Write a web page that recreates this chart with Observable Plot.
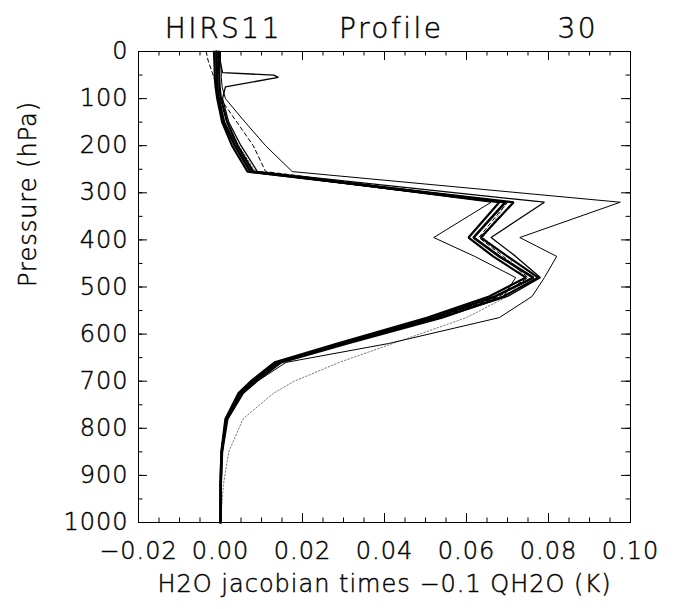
<!DOCTYPE html>
<html>
<head>
<meta charset="utf-8">
<script src="https://cdn.jsdelivr.net/npm/d3@7"></script>
<script src="https://cdn.jsdelivr.net/npm/@observablehq/plot@0.6"></script>
<style>
  body { margin: 0; background: #fff; }
  #chart svg { display: block; letter-spacing: 1px; font-weight: 200; }
  #chart svg text { stroke: #000; stroke-width: 0.45px; }
</style>
</head>
<body>
<div id="chart"></div>
<script>
// Pressure levels (hPa) shared by every profile
const pressure = [0, 20, 45, 50, 55, 75, 100, 150, 200, 255, 320, 395, 435, 480, 520, 565, 620, 660, 700, 725, 780, 850, 920, 1000];

// H2O jacobians (K) for the individual profiles, one value per level
const profA = [-0.0010, -0.0010, -0.0009, -0.0009, -0.0009, -0.0008, -0.0005, 0.0008, 0.0035, 0.0073, 0.0695, 0.0617, 0.0680, 0.0763, 0.0670, 0.0520, 0.0295, 0.0139, 0.0080, 0.0049, 0.0014, 0.0003, 0.0000, 0.0000];
const profB = [-0.0004, -0.0004, -0.0003, -0.0003, -0.0003, -0.0002, 0.0001, 0.0016, 0.0042, 0.0080, 0.0680, 0.0605, 0.0665, 0.0745, 0.0655, 0.0505, 0.0285, 0.0132, 0.0074, 0.0044, 0.0012, 0.0002, 0.0000, 0.0000];
const profC = [-0.0016, -0.0015, -0.0014, -0.0014, -0.0014, -0.0012, -0.0008, 0.0004, 0.0028, 0.0066, 0.0715, 0.0635, 0.0700, 0.0775, 0.0690, 0.0540, 0.0310, 0.0148, 0.0088, 0.0055, 0.0017, 0.0004, 0.0001, 0.0000];
const profD = [0.0000, 0.0000, 0.0002, 0.0002, 0.0002, 0.0004, 0.0012, 0.0060, 0.0110, 0.0175, 0.0975, 0.0730, 0.0820, 0.0790, 0.0760, 0.0680, 0.0410, 0.0160, 0.0090, 0.0055, 0.0016, 0.0004, 0.0001, 0.0000];
const profE = [-0.0008, -0.0008, -0.0007, -0.0007, -0.0007, -0.0006, -0.0003, 0.0010, 0.0040, 0.0078, 0.0660, 0.0520, 0.0620, 0.0720, 0.0690, 0.0530, 0.0300, 0.0140, 0.0078, 0.0047, 0.0013, 0.0003, 0.0000, 0.0000];
const profF = [-0.0002, -0.0001, 0.0005, 0.0130, 0.0141, 0.0012, 0.0005, 0.0020, 0.0050, 0.0090, 0.0790, 0.0660, 0.0720, 0.0780, 0.0700, 0.0540, 0.0300, 0.0140, 0.0080, 0.0050, 0.0014, 0.0003, 0.0000, 0.0000];
const profG = [-0.0006, -0.0006, -0.0005, -0.0005, -0.0005, -0.0004, 0.0000, 0.0015, 0.0045, 0.0085, 0.0700, 0.0640, 0.0700, 0.0740, 0.0700, 0.0600, 0.0420, 0.0290, 0.0180, 0.0130, 0.0055, 0.0020, 0.0007, 0.0000];
const profH = [-0.0035, -0.0030, -0.0020, -0.0018, -0.0016, -0.0010, 0.0000, 0.0040, 0.0080, 0.0110, 0.0700, 0.0630, 0.0690, 0.0750, 0.0680, 0.0530, 0.0300, 0.0140, 0.0080, 0.0050, 0.0014, 0.0003, 0.0000, 0.0000];

// Axis ticks and labels
const xMajor = [-0.02, 0.00, 0.02, 0.04, 0.06, 0.08, 0.10];
const yMajor = [0, 100, 200, 300, 400, 500, 600, 700, 800, 900, 1000];
const xMinor = d3.range(-0.02, 0.1001, 0.005);
const yMinor = d3.range(0, 1001, 50);

const titleText = "HIRS11\u00a0\u00a0\u00a0\u00a0\u00a0Profile\u00a0\u00a0\u00a0\u00a0\u00a0\u00a0\u00a0\u00a0\u00a0\u00a030";
const xLabel = "H2O jacobian times \u22120.1 QH2O (K)";
const yLabel = "Pressure (hPa)";

const rows = (vals) => pressure.map((p, i) => ({p, x: vals[i]}));

const W = 684, H = 609;
const mL = 138, mR = 54, mT = 51, mB = 87;
const innerW = W - mL - mR, innerH = H - mT - mB;

const profileLine = (vals, opts) => Plot.line(rows(vals), {x: "x", y: "p", stroke: "#000", strokeLinejoin: "miter", ...opts});

const chart = Plot.plot({
  width: W,
  height: H,
  marginLeft: mL,
  marginRight: mR,
  marginTop: mT,
  marginBottom: mB,
  style: {fontFamily: "DejaVu Sans", fontSize: "24px", color: "#000", background: "#fff"},
  x: {domain: [-0.02, 0.10], label: null},
  y: {domain: [0, 1000], reverse: true, label: null},
  marks: [
    // profiles
    profileLine(profG, {stroke: "#777", strokeWidth: 1, strokeDasharray: "1.5,2"}),
    profileLine(profD, {strokeWidth: 1}),
    profileLine(profE, {strokeWidth: 1}),
    profileLine(profF, {strokeWidth: 1.3}),
    profileLine(profH, {strokeWidth: 1, strokeDasharray: "4,3"}),
    profileLine(profC, {strokeWidth: 2.2}),
    profileLine(profB, {strokeWidth: 2.2}),
    profileLine(profA, {strokeWidth: 2.6}),
    // frame and inward ticks on all four sides
    Plot.frame({stroke: "#000", strokeWidth: 1}),
    Plot.tickX(xMinor, {x: d => d, insetTop: innerH - 4.5, strokeWidth: 1}),
    Plot.tickX(xMinor, {x: d => d, insetBottom: innerH - 4.5, strokeWidth: 1}),
    Plot.tickX(xMajor, {x: d => d, insetTop: innerH - 9, strokeWidth: 1}),
    Plot.tickX(xMajor, {x: d => d, insetBottom: innerH - 9, strokeWidth: 1}),
    Plot.tickY(yMinor, {y: d => d, insetRight: innerW - 4.5, strokeWidth: 1}),
    Plot.tickY(yMinor, {y: d => d, insetLeft: innerW - 4.5, strokeWidth: 1}),
    Plot.tickY(yMajor, {y: d => d, insetRight: innerW - 9, strokeWidth: 1}),
    Plot.tickY(yMajor, {y: d => d, insetLeft: innerW - 9, strokeWidth: 1}),
    // tick labels
    Plot.axisX({ticks: xMajor, tickSize: 0, tickPadding: 19, fontSize: 24, tickFormat: d3.format(".2f")}),
    Plot.axisY({ticks: yMajor, tickSize: 0, tickPadding: 10, fontSize: 24, tickFormat: d => String(d)}),
    // titles
    Plot.text([titleText], {frameAnchor: "top", dx: -3, dy: -22, fontSize: 28, lineAnchor: "middle"}),
    Plot.text([xLabel], {frameAnchor: "bottom", dy: 62, fontSize: 24, lineAnchor: "middle"}),
    Plot.text([yLabel], {frameAnchor: "left", dx: -110, rotate: -90, fontSize: 24, lineAnchor: "middle"})
  ]
});

// wider letter spacing for the plot title
for (const t of chart.querySelectorAll("text")) {
  if (t.textContent === titleText) t.style.letterSpacing = "2.5px";
}

document.getElementById("chart").append(chart);
</script>
</body>
</html>
